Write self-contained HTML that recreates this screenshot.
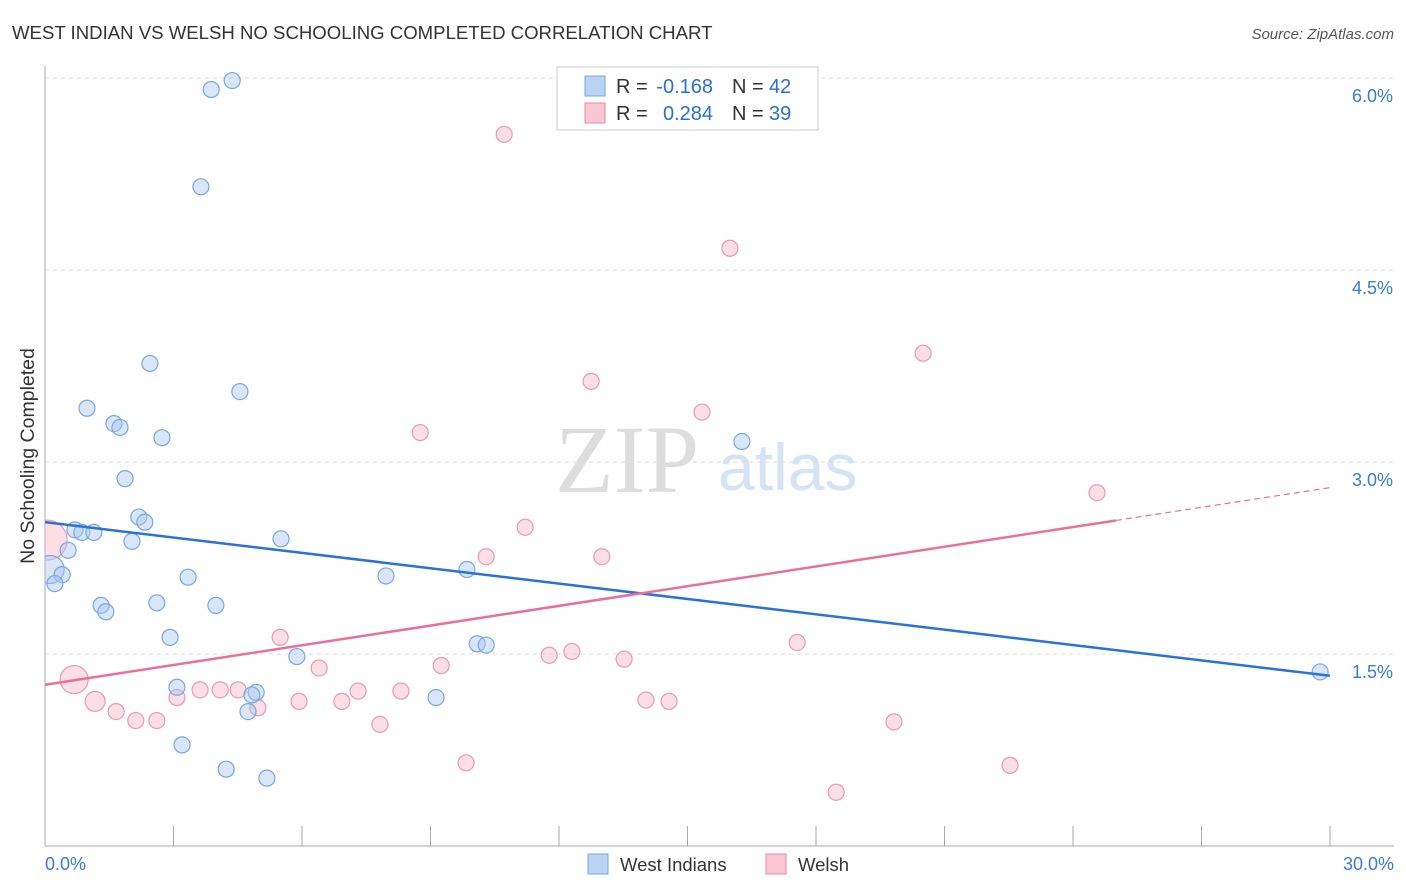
<!DOCTYPE html>
<html><head><meta charset="utf-8"><style>
body{margin:0;background:#fff;font-family:"Liberation Sans",sans-serif;}
svg{display:block}
</style></head><body>
<svg id="chart" width="1406" height="892">
<defs><clipPath id="plotclip"><rect x="45" y="60" width="1360" height="786"/></clipPath></defs>
<text x="12" y="39" font-size="18.6" fill="#333">WEST INDIAN VS WELSH NO SCHOOLING COMPLETED CORRELATION CHART</text>
<text x="1394" y="39" font-size="15" fill="#555" text-anchor="end" font-style="italic">Source: ZipAtlas.com</text>
<text transform="translate(34,456) rotate(-90)" font-size="19.5" fill="#333" text-anchor="middle">No Schooling Completed</text>
<text x="555" y="492" font-size="96" fill="#ddd" font-family="Liberation Serif,serif">ZIP</text>
<text x="718" y="490" font-size="66" fill="#d5e3f5">atlas</text>
<g id="grid"></g><g id="axes"></g><g id="plot" clip-path="url(#plotclip)"></g>
<g font-size="20">
<rect x="557" y="67" width="261" height="63" fill="#fff" stroke="#ccc"/>
<rect x="585" y="76" width="20" height="20" fill="#b9d3f3" stroke="#7aa7e0"/>
<rect x="585" y="103" width="20" height="20" fill="#f9c6d4" stroke="#e88aa8"/>
<text x="616" y="93" fill="#333">R =</text><text x="713" y="93" fill="#2a6fd6" text-anchor="end">-0.168</text>
<text x="732" y="93" fill="#333">N =</text><text x="769" y="93" fill="#2a6fd6">42</text>
<text x="616" y="120" fill="#333">R =</text><text x="713" y="120" fill="#2a6fd6" text-anchor="end">0.284</text>
<text x="732" y="120" fill="#333">N =</text><text x="769" y="120" fill="#2a6fd6">39</text>
</g>
<g>
<rect x="588" y="854" width="20" height="20" fill="#b9d3f3" stroke="#7aa7e0"/>
<text x="620" y="871" font-size="18.5" fill="#333">West Indians</text>
<rect x="766" y="854" width="20" height="20" fill="#f9c6d4" stroke="#e88aa8"/>
<text x="798" y="871" font-size="18.5" fill="#333">Welsh</text>
</g>
</svg>
<script>
const blueX=[4.37,3.88,3.64,2.45,4.55,0.98,1.61,1.75,2.73,1.87,2.19,2.33,0.70,0.86,1.14,2.03,0.54,0.12,0.40,0.23,3.34,5.51,7.96,9.85,1.31,1.42,2.61,3.99,2.92,5.88,10.09,10.30,3.08,4.93,4.83,9.13,4.74,3.20,4.23,5.18,16.27,29.77];
const blueY=[5.98,5.91,5.15,3.77,3.55,3.42,3.30,3.27,3.19,2.87,2.57,2.53,2.47,2.45,2.45,2.38,2.31,2.16,2.12,2.05,2.10,2.40,2.11,2.16,1.88,1.83,1.90,1.88,1.63,1.48,1.58,1.57,1.24,1.20,1.18,1.16,1.05,0.79,0.60,0.53,3.16,1.36];
const blueR=[8,8,8,8,8,8,8,8,8,8,8,8,8,8,8,8,8,14,8,8,8,8,8,8,8,8,8,8,8,8,8,8,8,8,8,8,8,8,8,8,8,8];
const pinkX=[10.72,15.99,20.50,12.75,15.34,8.76,24.56,11.21,10.30,13.00,5.49,17.56,11.77,12.30,13.52,6.40,9.25,0.68,3.62,4.09,4.51,7.31,8.31,3.08,5.93,6.93,1.17,4.97,14.03,14.57,1.66,2.12,2.61,7.82,19.82,9.83,22.53,18.47,0.05];
const pinkY=[5.56,4.67,3.85,3.63,3.39,3.23,2.76,2.49,2.26,2.26,1.63,1.59,1.49,1.52,1.46,1.39,1.41,1.30,1.22,1.22,1.22,1.21,1.21,1.16,1.13,1.13,1.13,1.08,1.14,1.13,1.05,0.98,0.98,0.95,0.97,0.65,0.63,0.42,2.39];
const pinkR=[8,8,8,8,8,8,8,8,8,8,8,8,8,8,8,8,8,14,8,8,8,8,8,8,8,8,10,8,8,8,8,8,8,8,8,8,8,8,20];
const blueTrend=[2.53,1.33];
const pinkTrend=[1.26,2.80];
const pinkSolidEnd=25;
const yTicks=[1.5,3.0,4.5,6.0];
const yTickLabels=["1.5%","3.0%","4.5%","6.0%"];
const xLabels=["0.0%","30.0%"];
const NS="http://www.w3.org/2000/svg";
const X=v=>45+v*(1285/30), Y=v=>846-v*128;
function mk(t,a,p){const e=document.createElementNS(NS,t);for(const k in a)e.setAttribute(k,a[k]);p.appendChild(e);return e;}
const grid=document.getElementById('grid'),axes=document.getElementById('axes'),plot=document.getElementById('plot');
yTicks.forEach((t,i)=>{
 const l=mk('line',{x1:45,x2:1394,y1:Y(t),y2:Y(t),stroke:'#ddd','stroke-dasharray':'4,4'},grid);
 
 
 const tx=mk('text',{x:1393,y:Y(t)+24,'font-size':18,fill:'#3a7ad8','text-anchor':'end'},axes);tx.textContent=yTickLabels[i];
 
 
});
let a=mk('line',{x1:45,x2:45,y1:66,y2:846,stroke:'#aaa'},axes);


a=mk('line',{x1:45,x2:1394,y1:846,y2:846,stroke:'#aaa'},axes);


for(let i=1;i<=10;i++){const t=mk('line',{x1:X(i*3),x2:X(i*3),y1:826,y2:846,stroke:'#aaa'},axes);
 
 }
let t1=mk('text',{x:45,y:870,'font-size':18,fill:'#3a7ad8'},axes);t1.textContent=xLabels[0];


let t2=mk('text',{x:1394,y:870,'font-size':18,fill:'#3a7ad8','text-anchor':'end'},axes);t2.textContent=xLabels[1];


pinkX.forEach((v,i)=>{const c=mk('circle',{cx:X(v),cy:Y(pinkY[i]),r:pinkR[i],fill:'rgba(247,182,200,0.45)',stroke:'#e99ab3','stroke-width':1.2},plot);
 
 });
blueX.forEach((v,i)=>{const c=mk('circle',{cx:X(v),cy:Y(blueY[i]),r:blueR[i],fill:'rgba(169,200,240,0.45)',stroke:'#7aa7e0','stroke-width':1.2},plot);
 
 });
const pAt=x=>pinkTrend[0]+(pinkTrend[1]-pinkTrend[0])*x/30;
let l=mk('line',{x1:X(0),y1:Y(blueTrend[0]),x2:X(30),y2:Y(blueTrend[1]),stroke:'#2a72d8','stroke-width':2.5},plot);


l=mk('line',{x1:X(0),y1:Y(pAt(0)),x2:X(pinkSolidEnd),y2:Y(pAt(pinkSolidEnd)),stroke:'#e8709a','stroke-width':2.5},plot);


l=mk('line',{x1:X(pinkSolidEnd),y1:Y(pAt(pinkSolidEnd)),x2:X(30),y2:Y(pAt(30)),stroke:'#e8709a','stroke-width':1.2,'stroke-dasharray':'6,4'},plot);


</script>
</body></html>
